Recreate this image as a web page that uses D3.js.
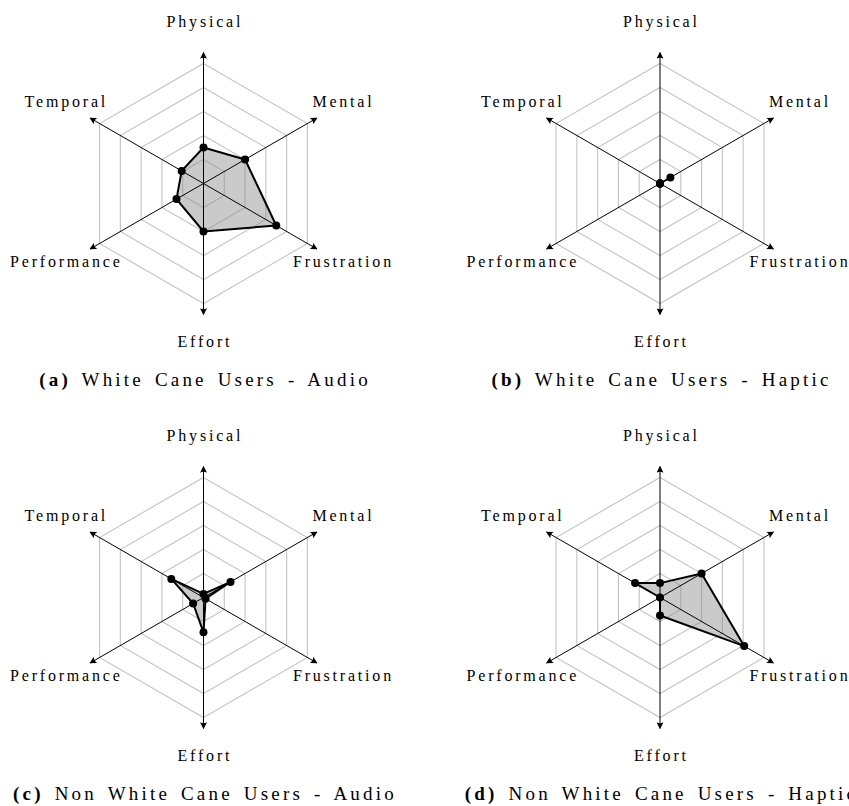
<!DOCTYPE html>
<html>
<head>
<meta charset="utf-8">
<script src="https://cdn.jsdelivr.net/npm/d3@7"></script>
<style>
  html, body { margin: 0; padding: 0; background: #fff; }
  svg { display: block; }
  text { font-family: "Liberation Serif", "Times New Roman", serif; fill: #000; }
</style>
</head>
<body>
<svg id="chart" width="849" height="806"></svg>
<script>
// ---- data ----
const axes = ["Physical", "Mental", "Frustration", "Effort", "Performance", "Temporal"];
const gridLevels = [20, 40, 60, 80, 100];
const valuesA = [30, 40, 70, 40, 26, 21];
const valuesB = [0, 10, 0, 0, 0, 0];
const valuesC = [3, 26, 2, 29, 10, 31];
const valuesD = [12, 40, 81, 15, 0, 24];
const captionLetters = ["(a)", "(b)", "(c)", "(d)"];
const captionTexts = ["White Cane Users - Audio", "White Cane Users - Haptic",
                      "Non White Cane Users - Audio", "Non White Cane Users - Haptic"];

// ---- layout ----
const panels = [
  { values: valuesA, cx: 203.5, cy: 183.5 },
  { values: valuesB, cx: 660,   cy: 183.5 },
  { values: valuesC, cx: 203.5, cy: 597.5 },
  { values: valuesD, cx: 660,   cy: 597.5 }
];
const rScale = d3.scaleLinear().domain([0, 100]).range([0, 120]);
const axisLen = 131;
const labelR = 160;
const angle = d3.scaleLinear().domain([0, axes.length]).range([-Math.PI / 2, 1.5 * Math.PI]);

const svg = d3.select("#chart");
const defs = svg.append("defs");
defs.append("marker")
  .attr("id", "arrow")
  .attr("viewBox", "0 0 10 10")
  .attr("refX", 9).attr("refY", 5)
  .attr("markerWidth", 7).attr("markerHeight", 7)
  .attr("markerUnits", "userSpaceOnUse")
  .attr("orient", "auto")
  .append("path")
  .attr("d", "M0,0 Q3,5 0,10 L10,5 Z")
  .attr("fill", "#000");

const pt = (i, r) => [r * Math.cos(angle(i)), r * Math.sin(angle(i))];

panels.forEach((p, k) => {
  const g = svg.append("g").attr("transform", `translate(${p.cx},${p.cy})`);

  // grid hexagons
  g.selectAll("path.grid").data(gridLevels).enter().append("path")
    .attr("class", "grid")
    .attr("d", lv => d3.line()(axes.map((a, i) => pt(i, rScale(lv)))) + "Z")
    .attr("fill", "none")
    .attr("stroke", "#c4c4c4")
    .attr("stroke-width", 1.1);

  // polygon fill
  const polyPts = p.values.map((v, i) => pt(i, rScale(v)));
  g.append("path")
    .attr("d", d3.line()(polyPts) + "Z")
    .attr("fill", "#8a8a8a")
    .attr("fill-opacity", 0.45)
    .attr("stroke", "none");

  // axes
  g.selectAll("line.axis").data(axes).enter().append("line")
    .attr("class", "axis")
    .attr("x1", 0).attr("y1", 0)
    .attr("x2", (a, i) => pt(i, axisLen)[0])
    .attr("y2", (a, i) => pt(i, axisLen)[1])
    .attr("stroke", "#000")
    .attr("stroke-width", 1)
    .attr("marker-end", "url(#arrow)");

  // polygon stroke
  g.append("path")
    .attr("d", d3.line()(polyPts) + "Z")
    .attr("fill", "none")
    .attr("stroke", "#000")
    .attr("stroke-width", 2)
    .attr("stroke-linejoin", "round");

  // dots
  g.selectAll("circle.dot").data(polyPts).enter().append("circle")
    .attr("class", "dot")
    .attr("cx", d => d[0]).attr("cy", d => d[1])
    .attr("r", 4)
    .attr("fill", "#000");

  // axis labels
  g.selectAll("text.lbl").data(axes).enter().append("text")
    .attr("class", "lbl")
    .attr("x", (a, i) => pt(i, labelR)[0] + 1.4)
    .attr("y", (a, i) => pt(i, labelR)[1] + 3)
    .attr("text-anchor", "middle")
    .style("font-size", "16px")
    .style("letter-spacing", "2.8px")
    .text(a => a);

  // caption
  const cap = g.append("text")
    .attr("x", 1.5).attr("y", 202)
    .attr("text-anchor", "middle")
    .style("font-size", "19px")
    .style("letter-spacing", "3.2px")
    .style("word-spacing", "3px");
  cap.append("tspan").style("font-weight", "bold").text(captionLetters[k]);
  cap.append("tspan").text(" " + captionTexts[k]);
});
</script>
</body>
</html>
